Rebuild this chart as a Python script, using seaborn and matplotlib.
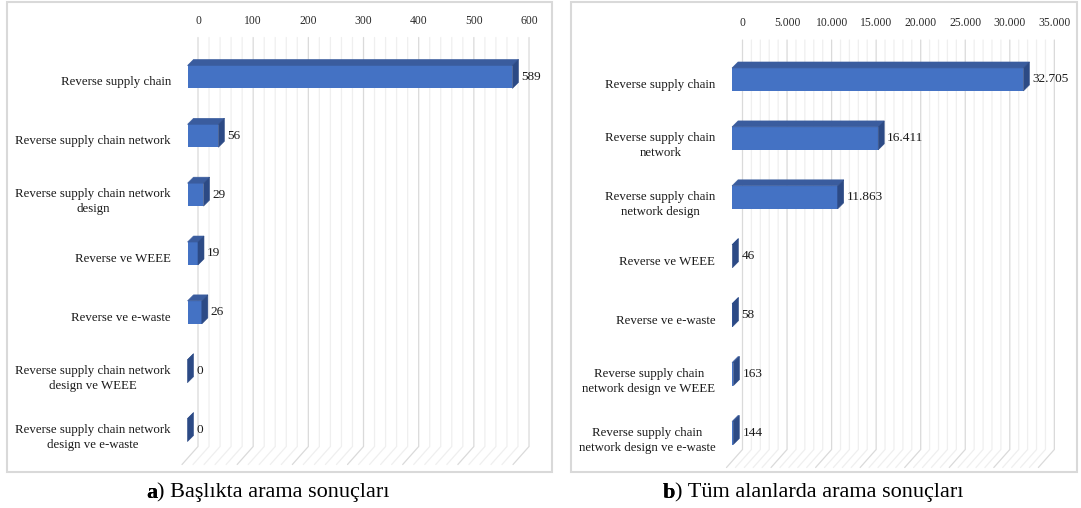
import numpy as np
import pandas as pd
import matplotlib
matplotlib.use("Agg")
import matplotlib.pyplot as plt
import seaborn as sns
from matplotlib.lines import Line2D
from matplotlib.patches import Polygon, Rectangle
from matplotlib.transforms import ScaledTranslation

# ---- data ----
labels_a = [
    "Reverse supply chain",
    "Reverse supply chain network",
    "Reverse supply chain network\ndesign",
    "Reverse ve WEEE",
    "Reverse ve e-waste",
    "Reverse supply chain network\ndesign ve WEEE",
    "Reverse supply chain network\ndesign ve e-waste",
]
values_a = [589, 56, 29, 19, 26, 0, 0]

labels_b = [
    "Reverse supply chain",
    "Reverse supply chain\nnetwork",
    "Reverse supply chain\nnetwork design",
    "Reverse ve WEEE",
    "Reverse ve e-waste",
    "Reverse supply chain\nnetwork design ve WEEE",
    "Reverse supply chain\nnetwork design ve e-waste",
]
values_b = [32705, 16411, 11863, 46, 58, 163, 144]

ticks_a = [0, 100, 200, 300, 400, 500, 600]
ticks_b = [0, 5000, 10000, 15000, 20000, 25000, 30000, 35000]

caption_a = ("a", ") Başlıkta arama sonuçları")
caption_b = ("b", ") Tüm alanlarda arama sonuçları")

# ---- style ----
sns.set_theme(style="white")
plt.rcParams["font.family"] = ["Liberation Serif", "DejaVu Serif"]

FRONT = "#4472C4"
TOP = "#3A5C9E"
SIDE = "#2C4A85"
GRID_MINOR = "#EFEFEF"
GRID_MAJOR = "#DADADA"
BORDER = "#D9D9D9"

W, H = 1081, 508
fig = plt.figure(figsize=(W / 100, H / 100), dpi=100)


def px_axes(x0, x1, ytop, ybot):
    """Axes rectangle given in pixels measured from the top-left corner."""
    return fig.add_axes([x0 / W, 1 - ybot / H, (x1 - x0) / W, (ybot - ytop) / H])


def to_fig(pts):
    return fig.transFigure.inverted().transform(np.asarray(pts, dtype=float))


def fmt_dot(v):
    return f"{int(v):,}".replace(",", ".")


def draw_panel(ax, labels, values, ticks, minor_step, fmt, wall_dx=10.5):
    df = pd.DataFrame({"label": labels, "value": values})
    sns.barplot(data=df, y="label", x="value", orient="h", color=FRONT,
                width=0.39, saturation=1, ax=ax, zorder=3, edgecolor="none")
    xmax = ticks[-1]
    ax.set_xlim(0, xmax)
    ax.set_ylim(len(labels) - 0.5, -0.5)
    ax.set_xlabel("")
    ax.set_ylabel("")
    for s in ax.spines.values():
        s.set_visible(False)
    ax.patch.set_alpha(0)

    # x ticks on top, shifted onto the back wall
    ax.xaxis.tick_top()
    ax.set_xticks(ticks)
    ax.set_xticklabels([fmt(t) for t in ticks], fontsize=8.4, color="#2a2a2a")
    ax.tick_params(axis="x", length=0, pad=15)
    for lab in ax.get_xticklabels():
        lab.set_transform(lab.get_transform() + ScaledTranslation(wall_dx / 100, 0, fig.dpi_scale_trans))

    ax.tick_params(axis="y", length=0, pad=12)
    for lab in ax.get_yticklabels():
        lab.set_fontsize(9.3)
        lab.set_color("#1a1a1a")
        lab.set_multialignment("center")
        lab.set_linespacing(1.35)
        lab.set_transform(lab.get_transform() + ScaledTranslation(0, -0.04, fig.dpi_scale_trans))

    # back wall and floor gridlines (3D look)
    fig.canvas.draw()
    bb = ax.get_window_extent()
    top_y = bb.y1 + 10
    back_bot = bb.y0 + 13
    floor_front = bb.y0 - 5
    for gx in np.arange(0, xmax + minor_step / 2, minor_step):
        dx = ax.transData.transform((gx, 0))[0] + wall_dx
        major = np.isclose(gx % (ticks[1] - ticks[0]), 0)
        col = GRID_MAJOR if major else GRID_MINOR
        pts = to_fig([(dx, top_y), (dx, back_bot), (dx - 16, floor_front)])
        fig.add_artist(Line2D(pts[:, 0], pts[:, 1], color=col, lw=0.9, zorder=0))

    # top and side faces of each bar
    ddx, ddy = 6, 6
    for p, v in zip(ax.patches, values):
        x0, y0 = p.get_x(), p.get_y()
        w, h = p.get_width(), p.get_height()
        (xl, yb), (xr, yt) = ax.transData.transform([(x0, y0 + h), (x0 + w, y0)])
        top = to_fig([(xl, yt), (xr, yt), (xr + ddx, yt + ddy), (xl + ddx, yt + ddy)])
        side = to_fig([(xr, yb), (xr, yt), (xr + ddx, yt + ddy), (xr + ddx, yb + ddy)])
        fig.add_artist(Polygon(top, closed=True, transform=fig.transFigure,
                               facecolor=TOP, edgecolor=TOP, lw=0.4, zorder=4))
        fig.add_artist(Polygon(side, closed=True, transform=fig.transFigure,
                               facecolor=SIDE, edgecolor=SIDE, lw=0.4, zorder=4))

    # value labels
    for i, v in enumerate(values):
        ax.annotate(fmt(v), xy=(v, i), xytext=(6.5, 0), textcoords="offset points",
                    ha="left", va="center", fontsize=9.5, color="#1a1a1a", zorder=5)


ax_a = px_axes(187.5, 187.5 + 600 * 0.5517, 47.5, 459.5)
draw_panel(ax_a, labels_a, values_a, ticks_a, 20, lambda v: str(int(v)))

ax_b = px_axes(732, 732 + 35 * 8.91, 50, 462.5)
draw_panel(ax_b, labels_b, values_b, ticks_b, 1000, fmt_dot)

# panel frames
for x0, x1 in [(7.5, 552), (571, 1077)]:
    fig.add_artist(Rectangle((x0 / W, 1 - 471.5 / H), (x1 - x0) / W, 470 / H,
                             transform=fig.transFigure, fill=False,
                             edgecolor=BORDER, lw=1.5, zorder=1))

# captions with bold panel letters
for (letter, rest), xpx in [(caption_a, 146), (caption_b, 663)]:
    t = fig.text(xpx / W, 1 - 490 / H, letter, fontsize=16, fontweight="bold",
                 ha="left", va="center_baseline", color="black")
    fig.add_artist(t)
    ann = plt.annotate(rest, xy=(1, 0), xycoords=t, xytext=(0, 0),
                       textcoords="offset points", ha="left", va="bottom",
                       fontsize=16, color="black", annotation_clip=False)

fig.savefig("out.png", dpi=100)
